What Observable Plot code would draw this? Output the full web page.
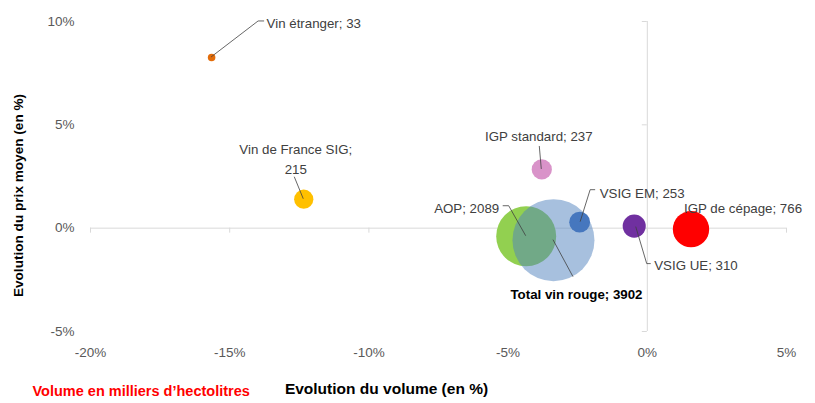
<!DOCTYPE html>
<html>
<head>
<meta charset="utf-8">
<script src="https://cdn.jsdelivr.net/npm/d3@7"></script>
<script src="https://cdn.jsdelivr.net/npm/@observablehq/plot@0.6"></script>
<style>
  html, body { margin: 0; padding: 0; background: #fff; }
</style>
</head>
<body>
<div id="chart"></div>
<script>
// ---- Data ----
const names = ["Vin étranger", "Vin de France SIG", "IGP standard", "AOP", "Total vin rouge", "VSIG EM", "VSIG UE", "IGP de cépage"];
const volumeChange = [-15.65, -12.34, -3.79, -4.35, -3.37, -2.43, -0.47, 1.57];   // Evolution du volume (%)
const priceChange  = [8.26, 1.40, 2.84, -0.39, -0.58, 0.29, 0.10, -0.05];         // Evolution du prix moyen (%)
const volumes      = [33, 215, 237, 2089, 3902, 253, 310, 766];                   // milliers d'hectolitres
const xTicks = [-20, -15, -10, -5, 0, 5];
const yTicks = [-5, 0, 5, 10];

// ---- Styles / label layout (pixel offsets from bubble centre) ----
const colors = {
  "Vin étranger": "#E36C0A",
  "Vin de France SIG": "#FFC000",
  "IGP standard": "#D993C9",
  "AOP": "#92D050",
  "Total vin rouge": "#4F81BD",
  "VSIG EM": "#4677BE",
  "VSIG UE": "#7030A0",
  "IGP de cépage": "#FF0000"
};
const layout = {
  "Vin étranger":      {dx: 55,  dy: -36, anchor: "start",  leader: [[53, -36], [47, -36], [0, 0]]},
  "Vin de France SIG": {dx: -8,  dy: -42, anchor: "middle", leader: [[-9, -22], [0, 0]], lines: true},
  "IGP standard":      {dx: -3,  dy: -35, anchor: "middle", leader: [[-2, -23], [0, 0]]},
  "AOP":               {dx: -27, dy: -30, anchor: "end",    leader: [[-23, -30], [-17, -30], [0, 0]]},
  "Total vin rouge":   {dx: 23,  dy: 52,  anchor: "middle", leader: [[20, 37], [0, 0]], bold: true},
  "VSIG EM":           {dx: 20,  dy: -31, anchor: "start",  leader: [[16, -32], [11, -32], [1, 0]]},
  "VSIG UE":           {dx: 20,  dy: 38,  anchor: "start",  leader: [[17, 38], [13, 38], [2, 1]]},
  "IGP de cépage":     {dx: -7,  dy: -23, anchor: "start",  leader: null}
};

const rows = names.map((name, i) => ({name, vx: volumeChange[i], py: priceChange[i], vol: volumes[i]}));

const font = "'Liberation Sans', Arial, sans-serif";
const axisColor = "#D9D9D9";

const labelMarks = rows.map(d => {
  const L = layout[d.name];
  const txt = L.lines ? `${d.name};\n${d.vol}` : `${d.name}; ${d.vol}`;
  return Plot.text([d], {
    x: "vx", y: "py", text: () => txt,
    dx: L.dx, dy: L.dy, textAnchor: L.anchor,
    fill: L.bold ? "#000" : "#404040",
    fontWeight: L.bold ? "bold" : "normal",
    fontSize: 13.3, lineHeight: 1.5
  });
});

function leaders(index, scales, values, dimensions, context) {
  const g = d3.create("svg:g");
  rows.forEach(d => {
    const L = layout[d.name];
    if (!L.leader) return;
    const cx = scales.x(d.vx), cy = scales.y(d.py);
    g.append("polyline")
      .attr("points", L.leader.map(([a, b]) => `${cx + a},${cy + b}`).join(" "))
      .attr("fill", "none")
      .attr("stroke", "#404040")
      .attr("stroke-width", 0.8);
  });
  return g.node();
}

const chart = Plot.plot({
  width: 815,
  height: 403,
  marginLeft: 90,
  marginRight: 29,
  marginTop: 21,
  marginBottom: 72,
  style: {fontFamily: font, fontSize: "13.5px", color: "#595959", background: "#fff"},
  x: {domain: [-20, 5], ticks: xTicks, tickFormat: d => d + "%", tickSize: 0, tickPadding: 16, label: null},
  y: {domain: [-5, 10], ticks: yTicks, tickFormat: d => d + "%", tickSize: 0, tickPadding: 16, label: null},
  r: {type: "sqrt", domain: [0, 3902], range: [0, 41]},
  color: {type: "identity"},
  marks: [
    Plot.ruleY([0], {x1: -20, x2: 5, stroke: axisColor, strokeWidth: 1}),
    Plot.ruleX([0], {y1: -5, y2: 10, stroke: axisColor, strokeWidth: 1}),
    Plot.ruleX(xTicks, {x: d => d, y1: 0, y2: 0, insetBottom: -5, stroke: axisColor}),
    Plot.ruleY(yTicks, {y: d => d, x1: 0, x2: 0, insetLeft: -5, stroke: axisColor}),
    Plot.dot(rows, {
      x: "vx", y: "py", r: "vol",
      fill: d => colors[d.name],
      fillOpacity: d => d.name === "Total vin rouge" ? 0.5 : 1,
      stroke: null,
      sort: null
    }),
    leaders,
    ...labelMarks,
    Plot.text(["Evolution du volume (en %)"], {frameAnchor: "bottom", dx: -52, dy: 62, fontWeight: "bold", fontSize: 15.5, fill: "#000"}),
    Plot.text(["Evolution du prix moyen (en %)"], {frameAnchor: "left", textAnchor: "middle", rotate: -90, dx: -72, dy: 19, fontWeight: "bold", fontSize: 13.6, fill: "#000"}),
    Plot.text(["Volume en milliers d’hectolitres"], {frameAnchor: "bottom-left", textAnchor: "start", dx: -58, dy: 64, fontWeight: "bold", fontSize: 14.5, fill: "#FF0000"})
  ]
});

document.getElementById("chart").appendChild(chart);
</script>
</body>
</html>
